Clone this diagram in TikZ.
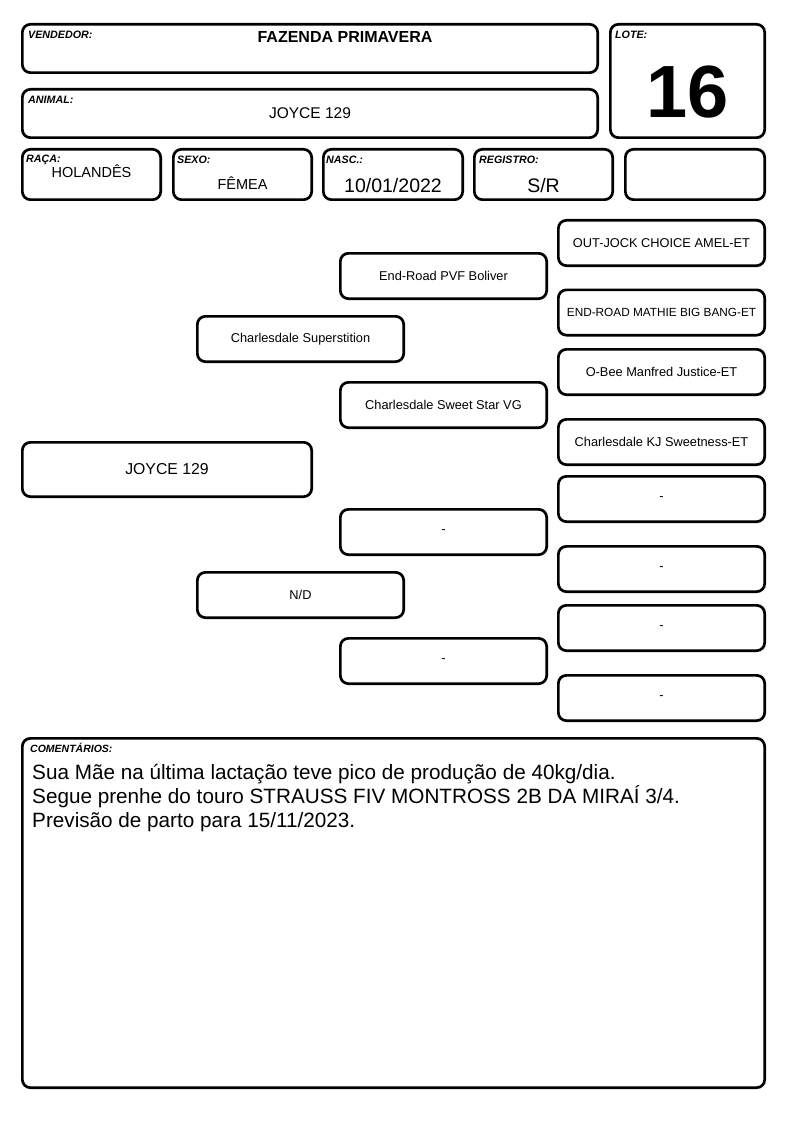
\documentclass[tikz,border=0pt]{standalone}
\usepackage{fontspec}
\setmainfont{Liberation Sans}
\begin{document}
\begin{tikzpicture}[x=1pt,y=-1pt,
  box/.style={draw=black,line width=2.7pt,rounded corners=8pt,inner sep=0pt,fill=white},
  lbl/.style={anchor=base west,inner sep=0pt,font=\fontsize{10.7}{12}\selectfont\bfseries\itshape},
  val/.style={anchor=base,inner sep=0pt},
  ped/.style={box,minimum width=206.3pt,minimum height=45.3pt,font=\fontsize{12.8}{14}\selectfont},
  hdr/.style={box,minimum height=50.3pt},
  comline/.style={anchor=base west,inner sep=0pt,font=\fontsize{20.7}{24}\selectfont}]
\path[use as bounding box,fill=white] (0,0) rectangle (794,1123);
% header boxes
\node[box,minimum width=575.3pt,minimum height=48.3pt] (vend) at (310,48.5) {};
\node[box,minimum width=575.3pt,minimum height=48.3pt] (anim) at (310,113.5) {};
\node[box,minimum width=154.3pt,minimum height=113.3pt] (lote) at (687.5,81) {};
\node[hdr,minimum width=138.3pt] (raca) at (91.5,174.5) {};
\node[hdr,minimum width=138.3pt] (sexo) at (242.5,174.5) {};
\node[hdr,minimum width=139.3pt] (nasc) at (393,174.5) {};
\node[hdr,minimum width=138.3pt] (reg) at (543.5,174.5) {};
\node[hdr,minimum width=139.3pt] (blank) at (695,174.5) {};
% labels
\node[lbl] (lvend) at (28,39) {VENDEDOR:};
\node[lbl] (lanim) at (28,103.5) {ANIMAL:};
\node[lbl] (llote) at (615,39) {LOTE:};
\node[lbl] (lraca) at (26,162.5) {RAÇA:};
\node[lbl] (lsexo) at (177,163.5) {SEXO:};
\node[lbl] (lnasc) at (326,163.5) {NASC.:};
\node[lbl] (lreg) at (479,164) {REGISTRO:};
% values
\node[val,font=\fontsize{16}{18}\selectfont\bfseries] (tvend) at (345,43) {FAZENDA PRIMAVERA};
\node[val,font=\fontsize{15.5}{18}\selectfont] (tanim) at (310,118.5) {JOYCE 129};
\node[val,font=\fontsize{74}{80}\selectfont\bfseries] (tlote) at (688,118) {16};
\node[val,font=\fontsize{14.5}{16}\selectfont] (traca) at (91.5,177.5) {HOLANDÊS};
\node[val,font=\fontsize{14.5}{16}\selectfont] (tsexo) at (242.5,189.3) {FÊMEA};
\node[val,font=\fontsize{19.5}{22}\selectfont] (tnasc) at (393,193) {10/01/2022};
\node[val,font=\fontsize{19.5}{22}\selectfont] (treg) at (543.5,193) {S/R};
% pedigree
\node[box,minimum width=289.3pt,minimum height=54.3pt,font=\fontsize{15.8}{18}\selectfont] (joyce) at (167,469.5) {JOYCE 129};
\node[ped] (sire) at (300.5,339) {Charlesdale Superstition};
\node[ped] (dam) at (300.5,595) {N/D};
\node[ped] (ss) at (443.5,276) {End-Road PVF Boliver};
\node[ped] (sd) at (443.5,405) {Charlesdale Sweet Star VG};
\node[ped] (ds) at (443.5,532) {-};
\node[ped] (dd) at (443.5,661) {-};
\node[ped] (sss) at (661.5,243) {OUT-JOCK CHOICE AMEL-ET};
\node[ped,font=\fontsize{11.8}{14}\selectfont] (ssd) at (661.5,312.5) {END-ROAD MATHIE BIG BANG-ET};
\node[ped] (sds) at (661.5,372) {O-Bee Manfred Justice-ET};
\node[ped] (sdd) at (661.5,442) {Charlesdale KJ Sweetness-ET};
\node[ped] (dss) at (661.5,499) {-};
\node[ped] (dsd) at (661.5,569) {-};
\node[ped] (dds) at (661.5,628) {-};
\node[ped] (ddd) at (661.5,698) {-};
% comments
\node[box,minimum width=742.3pt,minimum height=349.3pt] (com) at (393.5,913) {};
\node[lbl,font=\fontsize{10.5}{11}\selectfont\bfseries\itshape] (lcom) at (30,752.5) {COMENTÁRIOS:};
\node[comline] (c1) at (32,779.5) {Sua Mãe na última lactação teve pico de produção de 40kg/dia.};
\node[comline] (c2) at (32,803.5) {Segue prenhe do touro STRAUSS FIV MONTROSS 2B DA MIRAÍ 3/4.};
\node[comline] (c3) at (32,827.5) {Previsão de parto para 15/11/2023.};
\end{tikzpicture}
\end{document}
